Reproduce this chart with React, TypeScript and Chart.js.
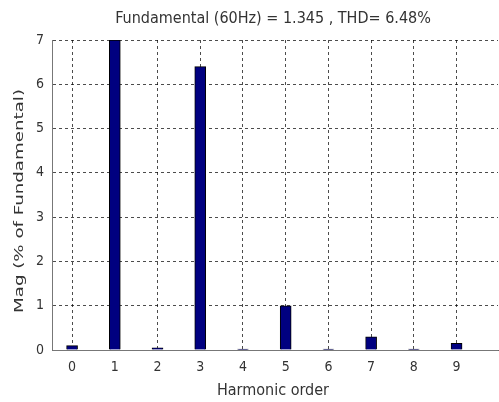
import React, { useEffect, useRef } from "react";
import { Chart, registerables } from "chart.js";
Chart.register(...registerables);

const harmonics = [0, 1, 2, 3, 4, 5, 6, 7, 8, 9];
const magnitudes = [0.1, 7, 0.05, 6.4, 0.02, 1.0, 0.02, 0.3, 0.02, 0.15];
const yTicks = [0, 1, 2, 3, 4, 5, 6, 7];
const titleText = "Fundamental (60Hz) = 1.345 , THD= 6.48%";
const xTitle = "Harmonic order";
const yTitle = "Mag (% of Fundamental)";

const FONT = "'DejaVu Sans Condensed', 'Liberation Sans', Arial, sans-serif";

export default function App() {
  const ref = useRef<HTMLCanvasElement>(null);
  useEffect(() => {
    document.body.style.margin = "0";
    const ctx = ref.current!;
    const chart = new Chart(ctx, {
      type: "bar",
      data: {
        datasets: [
          {
            data: harmonics.map((h, i) => ({ x: h, y: magnitudes[i] })),
            backgroundColor: "#000080",
            borderColor: "#000000",
            borderWidth: 1,
            barThickness: 11,
          },
        ],
      },
      options: {
        animation: false,
        responsive: false,
        maintainAspectRatio: false,
        layout: { padding: { left: 0, right: 1, top: 40, bottom: 0 } },
        plugins: {
          legend: { display: false },
          tooltip: { enabled: false },
          title: { display: false },
        },
        scales: {
          x: {
            type: "linear",
            min: -0.47,
            max: 9.97,
            offset: false,
            afterBuildTicks: (s: any) => {
              s.ticks = harmonics.map((v) => ({ value: v }));
            },
            afterFit: (s: any) => {
              s.height = 52;
            },
            ticks: {
              color: "#333",
              font: { family: FONT, size: 14 },
              padding: 9,
              maxRotation: 0,
              autoSkip: false,
            },
            grid: {
              offset: false,
              color: "rgba(0,0,0,0.7)",
              tickLength: 0,
              lineWidth: 1,
            },
            border: { display: true, color: "#666", width: 1, dash: [3, 3] } as any,
          },
          y: {
            min: 0,
            max: 7,
            afterBuildTicks: (s: any) => {
              s.ticks = yTicks.map((v) => ({ value: v }));
            },
            afterFit: (s: any) => {
              s.width = 52;
            },
            ticks: {
              color: "#333",
              font: { family: FONT, size: 14 },
              padding: 8,
            },
            grid: {
              color: "rgba(0,0,0,0.7)",
              tickLength: 0,
              lineWidth: 1,
            },
            border: { display: true, color: "#666", width: 1, dash: [3, 3] } as any,
          },
        },
      },
      plugins: [
        {
          id: "axesFix",
          beforeDatasetsDraw(c: any) {
            const { ctx: g, chartArea: a } = c;
            g.save();
            g.setLineDash([]);
            g.strokeStyle = "#777";
            g.lineWidth = 1;
            g.beginPath();
            g.moveTo(a.left + 0.5, a.top);
            g.lineTo(a.left + 0.5, a.bottom + 0.5);
            g.lineTo(a.right, a.bottom + 0.5);
            g.stroke();
            g.restore();
          },
          afterDraw(c: any) {
            const { ctx: g } = c;
            g.save();
            g.fillStyle = "#333";
            g.textAlign = "center";
            g.textBaseline = "middle";
            g.font = `16px ${FONT}`;
            g.fillText(titleText, 273, 19);
            g.fillText(xTitle, 273, 391);
            g.font = `13px ${FONT}`;
            const w = g.measureText(yTitle).width;
            const sx = 224 / w;
            g.translate(20, 201);
            g.rotate(-Math.PI / 2);
            g.scale(sx, 1);
            g.fillText(yTitle, 0, 0);
            g.restore();
          },
        },
      ],
    } as any);
    return () => chart.destroy();
  }, []);
  return (
    <div style={{ position: "fixed", left: 0, top: 0, width: 499, height: 402, background: "#fff" }}>
      <canvas ref={ref} width={499} height={402} style={{ width: 499, height: 402 }} />
    </div>
  );
}
